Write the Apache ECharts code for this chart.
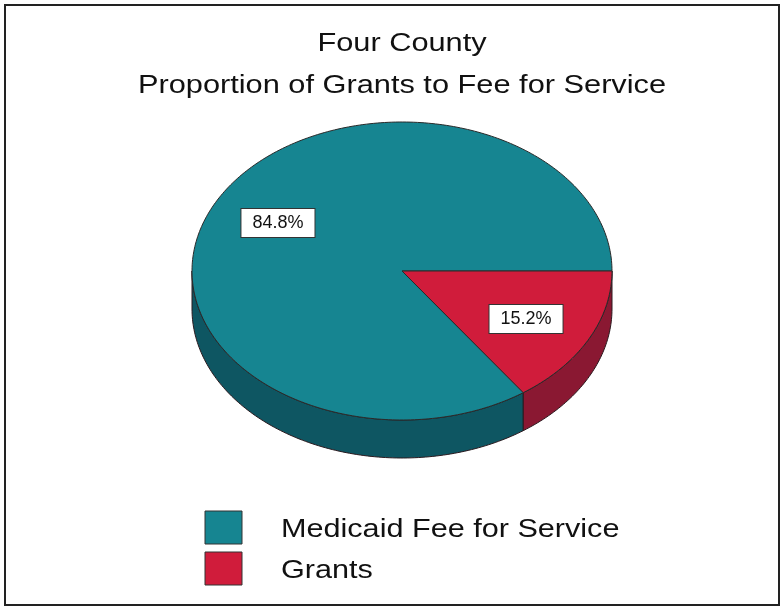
<!DOCTYPE html>
<html>
<head>
<meta charset="utf-8">
<title>Four County</title>
<script src="https://cdn.jsdelivr.net/npm/echarts@6/dist/echarts.min.js"></script>
<style>
  html, body { margin: 0; padding: 0; background: #ffffff; }
  #chart { width: 782px; height: 607px; }
</style>
</head>
<body>
<div id="chart"></div>
<script>
// Funding sources and their shares (percent)
var categories = ['Medicaid Fee for Service', 'Grants'];
var shares = [84.8, 15.2];
var titleLines = ['Four County', 'Proportion of Grants to Fee for Service'];

// Face colours (top) and wall colours (side) per slice
var topColors = ['#168591', '#d01c3b'];
var sideColors = ['#0e5662', '#8a1832'];

// Tilted-pie geometry
var CX = 402, CY = 271, RX = 210, RY = 149, DEPTH = 38;
var LABEL_RX = 0.665, LABEL_RY = 0.70;
var FONT = '"Liberation Sans", Arial, sans-serif';

var total = shares.reduce(function (a, b) { return a + b; }, 0);

// Slice angular ranges in degrees, screen convention (clockwise = positive),
// laid out counter-clockwise from 3 o'clock.
function sliceRange(idx) {
  var start = 0;
  for (var i = 0; i < idx; i++) start -= 360 * shares[i] / total;
  var end = start - 360 * shares[idx] / total;
  return [end, start];
}

function pt(deg, dy) {
  var r = deg * Math.PI / 180;
  return [CX + RX * Math.cos(r), CY + RY * Math.sin(r) + (dy || 0)];
}

function arcPoints(lo, hi, dy) {
  var pts = [];
  var n = Math.max(2, Math.ceil((hi - lo) / 1));
  for (var k = 0; k <= n; k++) pts.push(pt(lo + (hi - lo) * k / n, dy));
  return pts;
}

// Portions of [lo, hi] that face the viewer (0..180 degrees, modulo 360)
function frontParts(lo, hi) {
  var shift = Math.floor(lo / 360) * 360;
  lo -= shift; hi -= shift;
  var parts = [];
  [[0, 180], [360, 540]].forEach(function (w) {
    var a = Math.max(lo, w[0]), b = Math.min(hi, w[1]);
    if (b > a) parts.push([a, b]);
  });
  return parts;
}

function renderSlice(params, api) {
  var idx = params.dataIndex;
  var range = sliceRange(idx);
  var lo = range[0], hi = range[1];
  var children = [];

  frontParts(lo, hi).forEach(function (p) {
    var upper = arcPoints(p[0], p[1], 0);
    var lower = arcPoints(p[0], p[1], DEPTH).reverse();
    children.push({
      type: 'polygon',
      z2: 1,
      shape: { points: upper.concat(lower) },
      style: { fill: sideColors[idx], stroke: '#2b1a1f', lineWidth: 1 }
    });
  });

  children.push({
    type: 'polygon',
    z2: 5,
    shape: { points: [[CX, CY]].concat(arcPoints(lo, hi, 0)) },
    style: { fill: topColors[idx], stroke: '#2a2a2a', lineWidth: 1, lineJoin: 'round' }
  });

  var mid = (lo + hi) / 2 * Math.PI / 180;
  children.push({
    type: 'text',
    z2: 10,
    style: {
      text: api.value(0).toFixed(1) + '%',
      x: CX + RX * LABEL_RX * Math.cos(mid),
      y: CY + RY * LABEL_RY * Math.sin(mid),
      align: 'center',
      verticalAlign: 'middle',
      fontFamily: FONT,
      fontSize: 18,
      fill: '#111',
      backgroundColor: '#ffffff',
      borderColor: '#333333',
      borderWidth: 1,
      padding: [5, 11, 5, 11]
    }
  });

  return { type: 'group', children: children };
}

var graphics = [
  {
    type: 'rect',
    shape: { x: 5, y: 5, width: 774, height: 600 },
    style: { fill: 'none', stroke: '#222', lineWidth: 2 },
    z: 0
  }
];

// Title lines
[[titleLines[0], 44], [titleLines[1], 86]].forEach(function (t) {
  graphics.push({
    type: 'text',
    x: 402, y: t[1],
    scaleX: 1.23,
    style: {
      text: t[0], x: 0, y: 0,
      align: 'center', verticalAlign: 'middle',
      fontFamily: FONT, fontSize: 25, fill: '#111'
    }
  });
});

// Legend
var legendRows = [511, 552];
categories.forEach(function (name, i) {
  graphics.push({
    type: 'rect',
    shape: { x: 205, y: legendRows[i], width: 37, height: 33 },
    style: { fill: topColors[i], stroke: '#333', lineWidth: 1 }
  });
  graphics.push({
    type: 'text',
    x: 281, y: legendRows[i] + 19,
    scaleX: 1.2,
    style: {
      text: name, x: 0, y: 0,
      align: 'left', verticalAlign: 'middle',
      fontFamily: FONT, fontSize: 25.5, fill: '#111'
    }
  });
});

var chart = echarts.init(document.getElementById('chart'), null, { renderer: 'canvas' });
chart.setOption({
  backgroundColor: '#ffffff',
  animation: false,
  graphic: graphics,
  series: [{
    type: 'custom',
    name: 'Share',
    coordinateSystem: 'none',
    renderItem: renderSlice,
    data: shares.map(function (v, i) { return { name: categories[i], value: [v] }; })
  }]
});
</script>
</body>
</html>
